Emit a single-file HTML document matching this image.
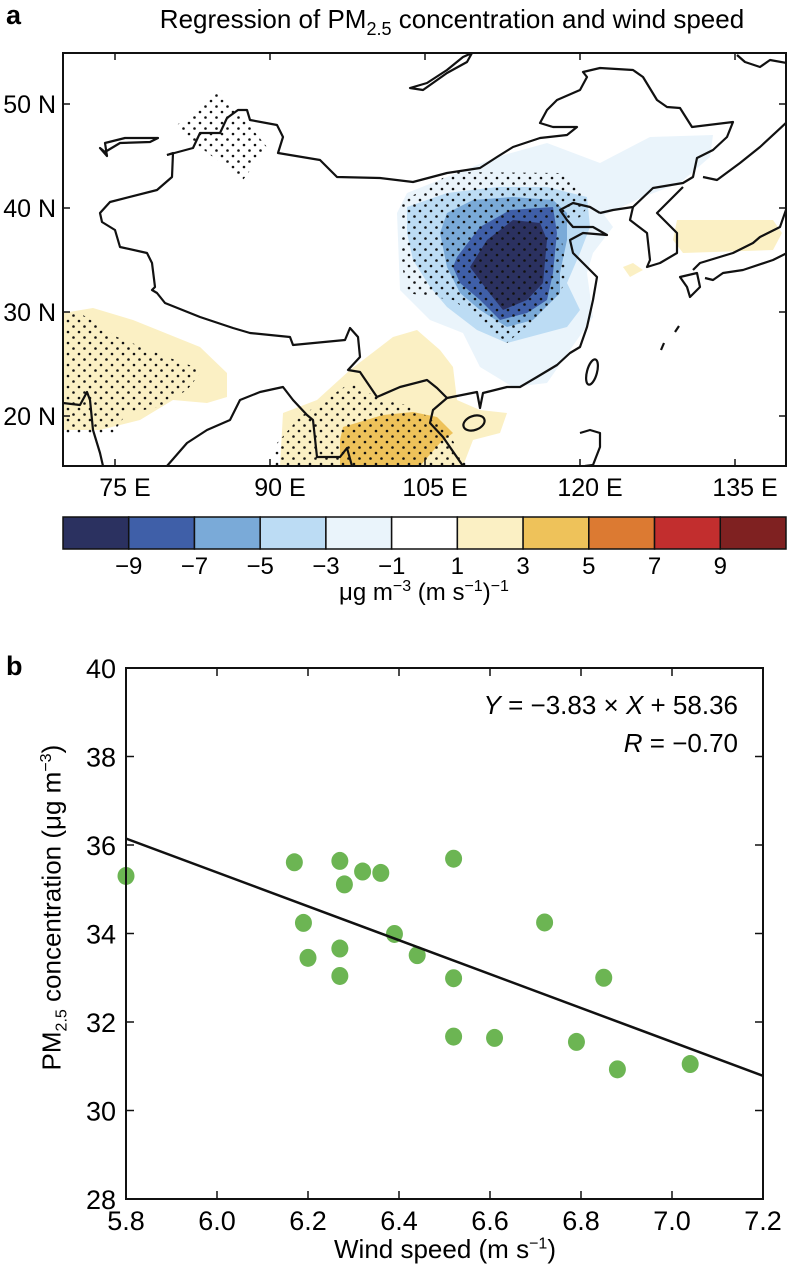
<!DOCTYPE html>
<html><head><meta charset="utf-8">
<style>
html,body{margin:0;padding:0;background:#fff;}
svg{display:block;font-family:"Liberation Sans",Arial,sans-serif;}
</style></head>
<body>
<svg id="fig" width="788" height="1271" viewBox="0 0 788 1271" xmlns="http://www.w3.org/2000/svg">
<defs>
<pattern id="dots" width="11" height="11" patternUnits="userSpaceOnUse">
<circle cx="2" cy="2" r="1.3" fill="#111"/>
<circle cx="7.5" cy="7.5" r="1.3" fill="#111"/>
</pattern>
<clipPath id="mapclip"><rect x="63" y="53" width="723" height="413"/></clipPath>
</defs>

<text x="6" y="24" font-size="27" font-weight="bold">a</text>
<text x="452" y="28" font-size="26" text-anchor="middle">Regression of PM<tspan font-size="18" dy="7">2.5</tspan><tspan dy="-7"> concentration and wind speed</tspan></text>

<g id="map" clip-path="url(#mapclip)"></g>
<rect x="63" y="53" width="723" height="413" fill="none" stroke="#111" stroke-width="2"/>
<g id="mapaxes"></g>

<g id="cbar"></g>
<text x="424" y="600" font-size="24" text-anchor="middle">μg m<tspan font-size="16" dy="-9">−3</tspan><tspan dy="9"> (m s</tspan><tspan font-size="16" dy="-9">−1</tspan><tspan dy="9">)</tspan><tspan font-size="16" dy="-9">−1</tspan></text>

<text x="6" y="675" font-size="27" font-weight="bold">b</text>
<g id="scatter"></g>
</svg>
<script>
var NS="http://www.w3.org/2000/svg";
function mk(tag,attrs,parent){var e=document.createElementNS(NS,tag);for(var k in attrs)e.setAttribute(k,attrs[k]);parent.appendChild(e);return e;}

/* ---------- map ---------- */
var map=document.getElementById('map');
function poly(pts,fill,name){var e=mk('polygon',{points:pts.map(function(p){return p.join(',');}).join(' '),fill:fill},map);

return e;}
function line(pts,name,closed){var e=mk(closed?'polygon':'polyline',{points:pts.map(function(p){return p.join(',');}).join(' '),fill:'none',stroke:'#111','stroke-width':2.2,'stroke-linejoin':'round'},map);

return e;}

poly([[397,213],[407,193],[447,177],[497,157],[547,143],[600,163],[650,137],[713,135],[710,157],[680,183],[643,197],[600,217],[593,200],[613,227],[593,253],[587,273],[593,317],[547,383],[513,387],[480,367],[463,333],[430,320],[400,290]],'#eaf4fb','contour-minus1');
poly([[407,207],[447,193],[497,187],[547,187],[587,197],[590,227],[580,253],[567,283],[580,310],[567,327],[507,343],[477,330],[447,307],[430,287],[413,260],[407,233]],'#bcdcf4','contour-minus3');
poly([[447,213],[473,200],[513,197],[553,200],[567,213],[567,240],[560,273],[560,293],[533,320],[507,327],[480,310],[460,293],[447,267],[440,233]],'#7aaad8','contour-minus5');
poly([[457,257],[480,227],[510,210],[553,207],[557,233],[553,273],[547,300],[527,313],[500,320],[480,300],[460,283],[453,267]],'#3f5fa8','contour-minus7');
poly([[470,267],[487,240],[513,220],[540,223],[547,240],[543,283],[527,300],[503,310],[487,290]],'#2b3160','contour-minus9');
poly([[63,313],[93,308],[133,320],[200,347],[227,373],[227,397],[207,403],[173,400],[140,420],[100,430],[63,430]],'#fbf0c4','contour-plus1-india');
poly([[280,466],[283,413],[317,400],[350,370],[393,337],[417,330],[440,350],[453,367],[457,400],[480,410],[507,413],[500,433],[473,440],[463,466]],'#fbf0c4','contour-plus1-seasia');
poly([[340,440],[343,427],[383,415],[413,412],[437,417],[453,433],[440,443],[420,466],[340,466]],'#eec25a','contour-plus3-seasia');
poly([[677,220],[773,220],[782,233],[773,250],[683,253],[673,240]],'#fbf0c4','contour-plus1-japan');
poly([[623,267],[633,263],[643,270],[630,277]],'#fbf0c4','contour-plus1-sea');

poly([[177,125],[220,90],[267,147],[243,180],[200,147]],'url(#dots)','stipple-northwest');
poly([[400,203],[453,172],[560,173],[593,200],[580,217],[560,227],[567,277],[557,300],[507,343],[480,320],[453,300],[407,293],[400,253]],'url(#dots)','stipple-central-china');
poly([[63,313],[83,315],[117,337],[167,357],[203,370],[187,390],[160,407],[127,413],[113,433],[63,433]],'url(#dots)','stipple-india');
poly([[273,466],[277,443],[300,417],[350,383],[377,397],[413,407],[447,430],[467,466]],'url(#dots)','stipple-seasia');

line([[100,148],[107,156],[105,143],[125,138],[158,138],[150,142],[120,143],[105,152]],'lake-balkhash',true);
line([[410,88],[423,90],[447,73],[467,62],[472,53],[463,57],[447,70],[427,83]],'lake-baikal',true);
line([[167,155],[173,153],[172,177],[157,190],[110,202],[100,213],[102,222],[115,230],[120,247],[147,253],[152,263],[155,287],[152,290],[157,293],[165,303],[200,317],[233,328],[250,333],[290,337],[293,345],[345,340],[350,328],[358,337],[360,357],[348,370],[360,372],[377,397],[400,387],[427,380],[437,388],[447,398]],'china-west-border');
line([[167,155],[193,148],[200,133],[220,133],[227,118],[238,110],[247,110],[250,120],[277,125],[283,137],[278,153],[320,160],[337,177],[380,178],[413,182],[447,173],[480,168],[497,157],[513,147],[540,138],[567,135],[577,127],[553,127],[540,123],[547,110],[557,100],[580,90],[587,77],[583,72],[600,68],[633,70],[643,77],[657,100],[667,107],[680,108],[692,127],[733,122],[727,137],[713,150],[697,158],[693,177],[683,183],[653,188],[633,207],[613,210],[600,213]],'china-north-border');
line([[447,398],[433,410],[430,423],[443,437],[463,466]],'vietnam-border');
line([[63,403],[80,405],[87,392],[90,400],[93,430],[100,453],[103,466]],'india-west-coast');
line([[167,466],[187,443],[207,430],[230,420],[240,400],[260,392],[283,387],[293,400],[307,415],[313,420],[317,457],[340,457],[347,448],[352,466]],'bay-of-bengal-coast');
line([[447,398],[477,392],[480,408],[483,393],[507,387],[520,387],[537,377],[557,365],[570,353],[580,347],[587,327],[593,300],[597,277],[583,263],[573,253],[570,240],[583,233],[607,235],[593,227],[573,227],[567,220],[560,210],[573,203],[590,207],[600,213]],'china-east-coast');
line([[633,207],[630,220],[647,233],[650,260],[647,267],[660,263],[677,253],[677,233],[657,213],[667,203],[683,187]],'korea-coast');
line([[703,177],[717,180],[740,163],[760,147],[787,122]],'russia-coast');
line([[737,55],[745,62],[760,67],[770,60],[787,63]],'sakhalin-coast');
line([[787,207],[780,227],[760,237],[753,243],[733,253],[700,263],[693,270]],'honshu-north-coast');
line([[787,253],[773,260],[743,270],[723,273],[713,280],[705,278]],'honshu-south-coast');
line([[680,277],[687,287],[690,297],[700,287],[697,273],[680,277]],'kyushu',true);
line([[580,433],[590,430],[600,433],[600,447],[593,465],[585,466]],'philippines-coast');
(function(){var t=mk('ellipse',{cx:592,cy:372,rx:5,ry:13,fill:'none',stroke:'#111','stroke-width':2.2,transform:'rotate(15 592 372)'},map);


var h=mk('ellipse',{cx:474,cy:423,rx:11,ry:7,fill:'none',stroke:'#111','stroke-width':2.2,transform:'rotate(-20 474 423)'},map);

})();
line([[675,332],[679,326]],'island-a');
line([[661,350],[664,343]],'island-b');

/* map axes */
var latTicks=[50,40,30,20];
var lonTicks=[75,90,105,120,135];
function lonX(l){return 115+(l-75)*155/15;}
function latY(l){return 416-(l-20)*10.4;}
var ma=document.getElementById('mapaxes');
latTicks.forEach(function(v){var y=latY(v);
var t=mk('text',{x:56,y:y+9,'font-size':25,'text-anchor':'end'},ma);t.textContent=v+' N';


mk('line',{x1:63,x2:70,y1:y,y2:y,stroke:'#111','stroke-width':1.5},ma);
mk('line',{x1:779,x2:786,y1:y,y2:y,stroke:'#111','stroke-width':1.5},ma);});
lonTicks.forEach(function(v){var x=lonX(v);
var t=mk('text',{x:x+10,y:496,'font-size':25,'text-anchor':'middle'},ma);t.textContent=v+' E';


mk('line',{x1:x,x2:x,y1:53,y2:60,stroke:'#111','stroke-width':1.5},ma);
mk('line',{x1:x,x2:x,y1:459,y2:466,stroke:'#111','stroke-width':1.5},ma);});

/* colorbar */
var cbColors=['#2b3160','#3f5fa8','#7aaad8','#bcdcf4','#eaf4fb','#ffffff','#fbf0c4','#eec25a','#dc7a32','#c22e2e','#7f2121'];
var cbLabels=['−9','−7','−5','−3','−1','1','3','5','7','9'];
var cb=document.getElementById('cbar');var cw=723/11;
cbColors.forEach(function(c,i){var r=mk('rect',{x:63+i*cw,y:517,width:cw,height:32,fill:c,stroke:'#111','stroke-width':1.5},cb);

});
cbLabels.forEach(function(s,i){var t=mk('text',{x:63+(i+1)*cw,y:574,'font-size':24,'text-anchor':'middle'},cb);t.textContent=s;

});

/* ---------- scatter ---------- */
var windSpeed=[5.80,6.17,6.19,6.20,6.27,6.28,6.27,6.27,6.32,6.36,6.39,6.44,6.52,6.52,6.52,6.61,6.72,6.79,6.85,6.88,7.04];
var pm25=[35.30,35.61,34.24,33.45,35.64,35.11,33.66,33.04,35.40,35.37,33.99,33.51,35.69,32.99,31.67,31.64,34.25,31.55,33.00,30.93,31.05];
var xTicks=[5.8,6.0,6.2,6.4,6.6,6.8,7.0,7.2];
var yTicks=[28,30,32,34,36,38,40];
var slope=-3.83, intercept=58.36;
var L=126,R=763,T=668,B=1199,xmin=5.8,xmax=7.2,ymin=28,ymax=40;
function sx(v){return L+(v-xmin)/(xmax-xmin)*(R-L);}
function sy(v){return B-(v-ymin)/(ymax-ymin)*(B-T);}
var sc=document.getElementById('scatter');
yTicks.forEach(function(v){var y=sy(v);
var t=mk('text',{x:116,y:y+10,'font-size':27,'text-anchor':'end'},sc);t.textContent=v;


mk('line',{x1:L,x2:L+8,y1:y,y2:y,stroke:'#111','stroke-width':1.5},sc);
mk('line',{x1:R-8,x2:R,y1:y,y2:y,stroke:'#111','stroke-width':1.5},sc);});
xTicks.forEach(function(v){var x=sx(v);
var t=mk('text',{x:x,y:1230,'font-size':27,'text-anchor':'middle'},sc);t.textContent=v.toFixed(1);


mk('line',{x1:x,x2:x,y1:B-8,y2:B,stroke:'#111','stroke-width':1.5},sc);
mk('line',{x1:x,x2:x,y1:T,y2:T+8,stroke:'#111','stroke-width':1.5},sc);});
windSpeed.forEach(function(w,i){var c=mk('ellipse',{cx:sx(w),cy:sy(pm25[i]),rx:8.5,ry:9,fill:'#6cb553'},sc);

});
var rl=mk('line',{x1:sx(xmin),y1:sy(slope*xmin+intercept),x2:sx(xmax),y2:sy(slope*xmax+intercept),stroke:'#111','stroke-width':2.5},sc);


var fr=mk('rect',{x:L,y:T,width:R-L,height:B-T,fill:'none',stroke:'#111','stroke-width':2},sc);


</script>
<div style="position:absolute;left:0;top:0;width:788px;height:1271px;pointer-events:none;font-family:'Liberation Sans',Arial,sans-serif;">
<div style="position:absolute;right:50px;top:690px;font-size:26px;white-space:nowrap;"><i>Y</i> = −3.83 × <i>X</i> + 58.36</div>
<div style="position:absolute;right:50px;top:728px;font-size:26px;white-space:nowrap;"><i>R</i> = −0.70</div>
<div style="position:absolute;left:0;width:890px;text-align:center;top:1234px;font-size:26px;">Wind speed (m s<sup style="font-size:16px">−1</sup>)</div>
<div style="position:absolute;left:-126px;top:890px;width:360px;text-align:center;font-size:26px;transform:rotate(-90deg);white-space:nowrap;">PM<sub style="font-size:16px">2.5</sub> concentration (μg m<sup style="font-size:16px">−3</sup>)</div>
</div>
</body></html>
